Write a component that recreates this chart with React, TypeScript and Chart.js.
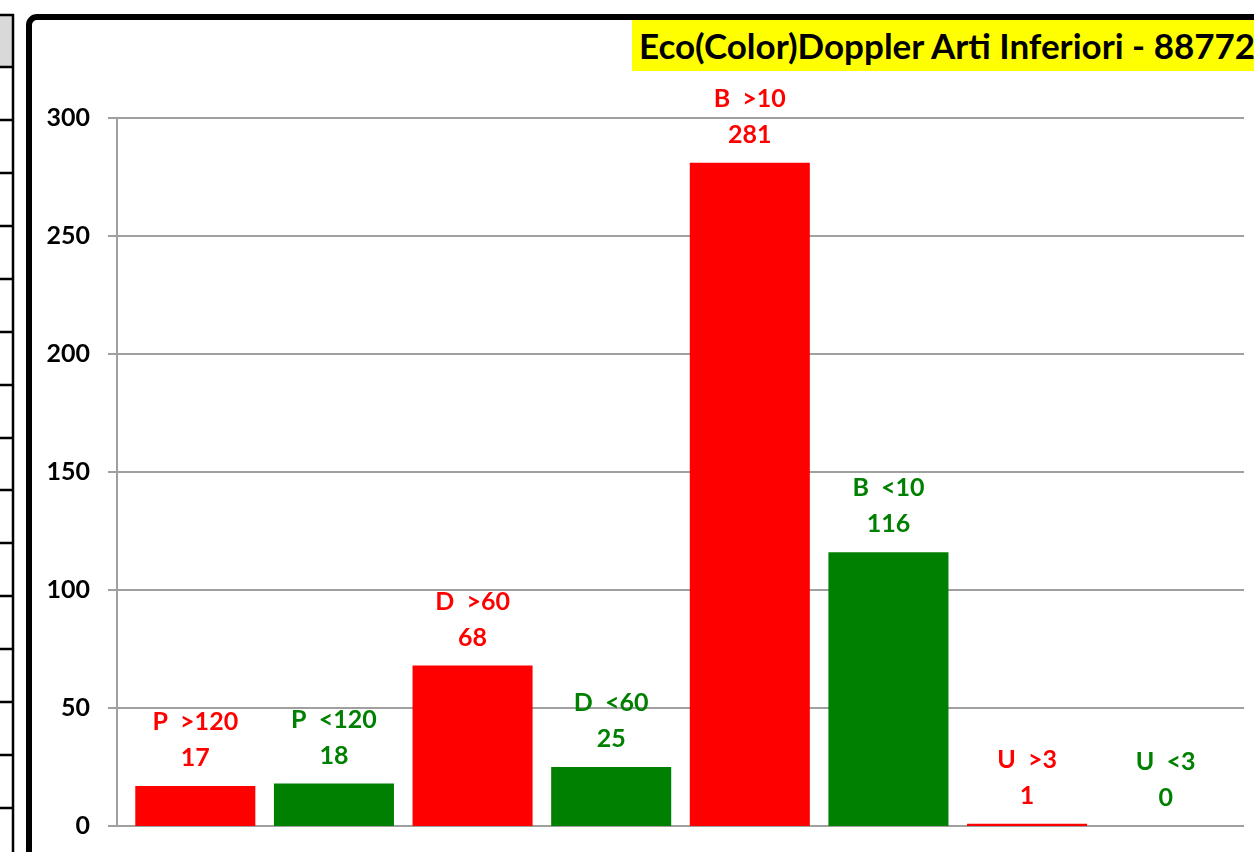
import React, { useEffect, useRef } from "react";
import { Chart, registerables } from "chart.js";

Chart.register(...registerables);

const categories = ["P  >120", "P  <120", "D  >60", "D  <60", "B  >10", "B  <10", "U  >3", "U  <3"];
const values = [17, 18, 68, 25, 281, 116, 1, 0];
const barColors = ["#FF0000", "#008000", "#FF0000", "#008000", "#FF0000", "#008000", "#FF0000", "#008000"];
const yTicks = [0, 50, 100, 150, 200, 250, 300];
const titleText = "Eco(Color)Doppler Arti Inferiori - 88772";

const FONT = "Lato, 'Open Sans', sans-serif";

const framePlugin = {
  id: "framePlugin",
  beforeDraw(chart: any) {
    const ctx = chart.ctx;
    const W = chart.width;
    const H = chart.height;
    ctx.save();
    ctx.fillStyle = "#FFFFFF";
    ctx.fillRect(0, 0, W, H);

    // left strip (neighbouring table)
    ctx.fillStyle = "#D9D9D9";
    ctx.fillRect(0, 16, 12, 51);
    ctx.strokeStyle = "#000000";
    ctx.lineWidth = 2.5;
    ctx.beginPath();
    ctx.moveTo(13, 14);
    ctx.lineTo(13, H);
    ctx.moveTo(0, 15);
    ctx.lineTo(14, 15);
    const rows = [67, 120, 173, 226, 279, 332, 385, 438, 490, 543, 596, 649, 702, 755, 808];
    rows.forEach((r) => {
      ctx.moveTo(0, r);
      ctx.lineTo(13, r);
    });
    ctx.stroke();

    // thick chart frame
    ctx.lineWidth = 6;
    ctx.beginPath();
    const x0 = 29, y0 = 17, rad = 8;
    ctx.moveTo(x0, H + 10);
    ctx.lineTo(x0, y0 + rad);
    ctx.arcTo(x0, y0, x0 + rad, y0, rad);
    ctx.lineTo(W + 10, y0);
    ctx.stroke();

    // grid lines, tick marks, axis line and tick labels
    const y = chart.scales.y;
    ctx.strokeStyle = "#A0A0A0";
    ctx.lineWidth = 2;
    ctx.beginPath();
    yTicks.forEach((t) => {
      const py = Math.round(y.getPixelForValue(t));
      ctx.moveTo(108, py);
      ctx.lineTo(1244, py);
    });
    ctx.moveTo(117, y.getPixelForValue(yTicks[yTicks.length - 1]));
    ctx.lineTo(117, y.getPixelForValue(0));
    ctx.stroke();

    ctx.fillStyle = "#000000";
    ctx.font = `bold 25px ${FONT}`;
    ctx.textAlign = "right";
    ctx.textBaseline = "middle";
    yTicks.forEach((t) => {
      ctx.fillText(String(t), 90, y.getPixelForValue(t));
    });
    ctx.restore();
  },
};

const labelPlugin = {
  id: "labelPlugin",
  afterDatasetsDraw(chart: any) {
    const ctx = chart.ctx;
    const meta = chart.getDatasetMeta(0);
    ctx.save();
    ctx.font = `bold 25px ${FONT}`;
    ctx.textAlign = "center";
    ctx.textBaseline = "middle";
    meta.data.forEach((bar: any, i: number) => {
      ctx.fillStyle = barColors[i];
      ctx.fillText(categories[i], bar.x, bar.y - 64);
      ctx.fillText(String(values[i]), bar.x, bar.y - 28);
    });
    ctx.restore();
  },
};

export default function App() {
  const ref = useRef<HTMLCanvasElement>(null);
  useEffect(() => {
    if (!ref.current) return;
    const chart = new Chart(ref.current, {
      type: "bar",
      data: {
        labels: categories,
        datasets: [
          {
            data: values,
            backgroundColor: barColors,
            borderWidth: 0,
            categoryPercentage: 1,
            barPercentage: 0.866,
          },
        ],
      },
      options: {
        responsive: false,
        maintainAspectRatio: false,
        devicePixelRatio: 1,
        animation: false,
        layout: { padding: { left: 126, right: 19, top: 118, bottom: 26 } },
        plugins: { legend: { display: false }, tooltip: { enabled: false }, title: { display: false } },
        scales: {
          x: { display: false, offset: true },
          y: { display: false, min: 0, max: 300 },
        },
      },
      plugins: [framePlugin, labelPlugin],
    });
    return () => chart.destroy();
  }, []);

  return (
    <div style={{ position: "fixed", left: 0, top: 0, width: 1254, height: 852, overflow: "hidden", background: "#fff" }}>
      <canvas ref={ref} width={1254} height={852} style={{ position: "absolute", left: 0, top: 0, width: 1254, height: 852 }} />
      <div
        style={{
          position: "absolute",
          left: 632,
          top: 20,
          height: 51,
          width: 680,
          background: "#FFFF00",
          fontFamily: FONT,
          fontWeight: 700,
          fontSize: 35,
          lineHeight: "51px",
          paddingLeft: 7,
          whiteSpace: "nowrap",
          color: "#000",
          boxSizing: "border-box",
        }}
      >
        {titleText}
      </div>
    </div>
  );
}
